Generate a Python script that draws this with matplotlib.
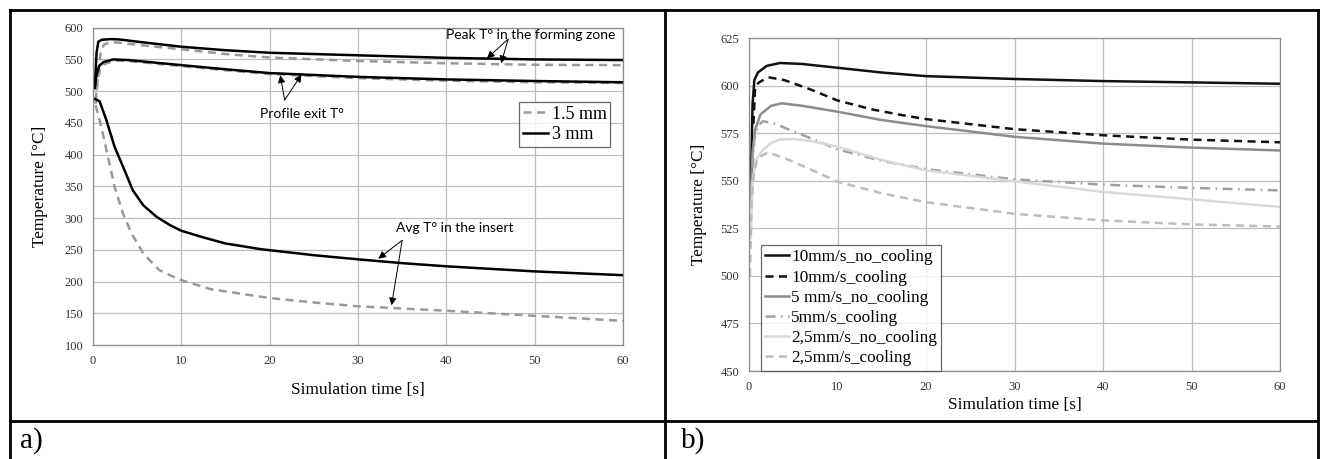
import matplotlib
matplotlib.use("Agg")
import matplotlib.pyplot as plt
from matplotlib.lines import Line2D

# ---------------- Panel a data ----------------
t_peak_3 = [0.2, 0.4, 0.6, 1.0, 2.0, 3.0, 5.0, 10, 15, 20, 30, 40, 50, 60]
peak_3 = [505, 560, 578, 581, 582, 581.5, 578, 570, 564.5, 560.5, 556.5, 552.5, 550, 549]
t_peak_15 = [0.3, 0.6, 0.9, 1.3, 2.0, 3.0, 5.0, 10, 15, 20, 30, 40, 50, 60]
peak_15 = [485, 530, 565, 574, 577, 576.5, 573, 566, 558.5, 553, 547.5, 544, 541.5, 541]
t_exit_3 = [0.2, 0.4, 0.7, 1.2, 2.3, 4, 7, 10, 15, 20, 30, 40, 50, 60]
exit_3 = [505, 525, 540, 546, 550, 549, 545, 541, 534.5, 528.5, 522.5, 518.5, 516, 514]
t_exit_15 = [0.3, 0.5, 0.8, 1.3, 2.5, 4, 7, 10, 15, 20, 30, 40, 50, 60]
exit_15 = [480, 515, 535, 543, 548, 547.5, 543.5, 539.5, 533, 527, 520.5, 516.5, 514, 513]
t_avg_3 = [0, 0.75, 1.5, 2.45, 3.4, 4.5, 5.7, 7.2, 8.7, 10, 12.5, 15, 19, 25, 30, 35, 40, 45, 50, 55, 60]
avg_3 = [489, 484, 455, 412, 381, 344, 320, 302, 289, 280, 269.5, 260, 251, 241.5, 235, 229, 224, 220, 216, 213, 210]
t_avg_15 = [0.3, 0.95, 1.7, 2.45, 3.4, 4.35, 5.7, 7.5, 9.8, 13.3, 20, 25, 30, 35, 40, 45, 50, 55, 60]
avg_15 = [478, 443, 396, 349, 307, 276, 244, 218, 203, 188, 174, 167, 161, 157.5, 154, 150, 146, 142, 138]
legend_a = ["1.5 mm", "3 mm"]

# ---------------- Panel b data ----------------
t_10n = [0.2, 0.4, 0.6, 1.0, 2, 3.5, 6, 10, 15, 20, 30, 40, 50, 60]
v_10n = [545, 590, 603, 607, 610.5, 612, 611.5, 609.5, 607, 605.1, 603.6, 602.5, 601.8, 601.1]
t_10c = [0.5, 0.7, 1.2, 2.2, 4, 7, 10, 14, 17.4, 20, 30, 40, 50, 60]
v_10c = [580, 600, 602, 604.5, 603, 598, 592.3, 587.5, 584.5, 582.5, 577.2, 574, 571.7, 570.3]
t_5n = [0.2, 0.4, 0.7, 1.3, 2.5, 3.7, 6, 10, 15, 20, 30, 40, 50, 60]
v_5n = [540, 565, 577, 585, 589.5, 590.8, 589.5, 586.4, 582, 578.8, 573.2, 569.6, 567.5, 566]
t_5c = [0.3, 0.6, 1.0, 1.6, 3, 5, 7.5, 10, 15, 20, 30, 40, 50, 60]
v_5c = [545, 572, 579, 581.4, 580, 576, 571.5, 566.6, 560.5, 556.2, 550.8, 548, 546.3, 545]
t_25n = [0.2, 0.4, 0.8, 1.5, 2.5, 3.5, 5, 7, 10, 15, 20, 30, 40, 50, 60]
v_25n = [520, 550, 561, 566, 570, 571.8, 572, 571, 568, 561, 555.5, 549.8, 544.2, 540.3, 536.3]
t_25c = [0.1, 0.3, 0.6, 1.0, 2.1, 4, 7, 10, 15, 20, 30, 40, 50, 60]
v_25c = [500, 540, 556, 562, 565, 562, 556, 549.6, 543.5, 538.8, 532.7, 529.2, 527.1, 526]
labels_b = ["10mm/s_no_cooling", "10mm/s_cooling", "5 mm/s_no_cooling",
            "5mm/s_cooling", "2,5mm/s_no_cooling", "2,5mm/s_cooling"]

SERIF = "Liberation Serif"
SANS = "Lato"
W, H = 1320, 459

fig = plt.figure(figsize=(W / 100, H / 100), dpi=100)
fig.patch.set_facecolor("white")


def fx(px):
    return px / W


def fy(py):
    return 1 - py / H


def style_axes(ax, ylim, yticks):
    ax.set_xlim(0, 60)
    ax.set_ylim(*ylim)
    ax.set_xticks(range(0, 61, 10))
    ax.set_yticks(yticks)
    ax.grid(True, color="#bdbdbd", lw=0.9)
    ax.set_axisbelow(True)
    for s in ax.spines.values():
        s.set_color("#8a8a8a")
        s.set_linewidth(0.9)
    ax.tick_params(length=0, labelsize=9, pad=7)
    for lab in ax.get_xticklabels() + ax.get_yticklabels():
        lab.set_fontfamily(SERIF)
        lab.set_color("#333333")


# ---------------- Panel a ----------------
axa = fig.add_axes([fx(93), fy(345), fx(623 - 93), (345 - 27.7) / H])
style_axes(axa, (100, 600), range(100, 601, 50))
gray_a = "#999999"
dash = (3.2, 2.2)
axa.plot(t_peak_15, peak_15, color=gray_a, lw=1.8, dashes=dash)
axa.plot(t_exit_15, exit_15, color=gray_a, lw=1.8, dashes=dash)
axa.plot(t_avg_15, avg_15, color=gray_a, lw=1.8, dashes=dash)
axa.plot(t_peak_3, peak_3, color="black", lw=1.8)
axa.plot(t_exit_3, exit_3, color="black", lw=1.8)
axa.plot(t_avg_3, avg_3, color="black", lw=1.8)

hA = [Line2D([], [], color=gray_a, lw=1.8, dashes=dash),
      Line2D([], [], color="black", lw=1.8)]
lga = axa.legend(hA, legend_a, loc="upper left",
                 bbox_to_anchor=(fx(519), fy(102)), bbox_transform=fig.transFigure,
                 prop={"family": SERIF, "size": 13}, frameon=True, fancybox=False,
                 edgecolor="#444444", handlelength=1.4, handletextpad=0.2,
                 borderpad=0.2, labelspacing=0.2, borderaxespad=0)
lga.get_frame().set_linewidth(0.9)

axa.set_xlabel("Simulation time [s]", fontfamily=SERIF, fontsize=12.4, labelpad=11)
axa.set_ylabel("Temperature [°C]", fontfamily=SERIF, fontsize=12.4, labelpad=12)

ap = dict(arrowstyle="-|>", color="black", lw=0.7, mutation_scale=11,
          shrinkA=0, shrinkB=0)
axa.text(40, 589, "Peak T° in the forming zone", fontfamily=SANS, fontsize=10,
         ha="left", va="center")
axa.annotate("", xy=(44.6, 551.7), xytext=(47, 582), arrowprops=ap)
axa.annotate("", xy=(46.2, 544), xytext=(47, 582), arrowprops=ap)
axa.text(23.6, 464, "Profile exit T°", fontfamily=SANS, fontsize=10,
         ha="center", va="center")
axa.annotate("", xy=(21.2, 525), xytext=(21.7, 486), arrowprops=ap)
axa.annotate("", xy=(23.6, 526), xytext=(21.7, 486), arrowprops=ap)
axa.text(41, 285, "Avg T° in the insert", fontfamily=SANS, fontsize=10,
         ha="center", va="center")
axa.annotate("", xy=(32.3, 236), xytext=(35, 265), arrowprops=ap)
axa.annotate("", xy=(33.8, 162.6), xytext=(35, 265), arrowprops=ap)

# ---------------- Panel b ----------------
axb = fig.add_axes([fx(749), fy(371), fx(1280 - 749), (371 - 38.3) / H])
style_axes(axb, (450, 625), range(450, 626, 25))
c_black = "#111111"
c_gray = "#8c8c8c"
c_gray2 = "#a0a0a0"
c_light = "#d9d9d9"
c_light2 = "#bdbdbd"
styles = [
    dict(color=c_black, lw=1.8),
    dict(color=c_black, lw=1.8, dashes=(3.2, 2.2)),
    dict(color=c_gray, lw=1.8),
    dict(color=c_gray2, lw=1.8, dashes=(4, 2.2, 0.6, 2.2)),
    dict(color=c_light, lw=1.8),
    dict(color=c_light2, lw=1.8, dashes=(3.2, 2.2)),
]
series_b = [(t_10n, v_10n), (t_10c, v_10c), (t_5n, v_5n),
            (t_5c, v_5c), (t_25n, v_25n), (t_25c, v_25c)]
hB = []
for (tt, vv), st, lb in zip(series_b, styles, labels_b):
    ln, = axb.plot(tt, vv, label=lb, **st)
    hB.append(ln)

lgb = axb.legend(hB, labels_b, loc="upper left",
                 bbox_to_anchor=(fx(761), fy(245)), bbox_transform=fig.transFigure,
                 prop={"family": SERIF, "size": 12.4}, frameon=True, fancybox=False,
                 edgecolor="#444444", handlelength=1.35, handletextpad=0.15,
                 borderpad=0.25, labelspacing=0.24, borderaxespad=0)
lgb.get_frame().set_linewidth(0.9)

axb.set_xlabel("Simulation time [s]", fontfamily=SERIF, fontsize=12.4, labelpad=3)
axb.set_ylabel("Temperature [°C]", fontfamily=SERIF, fontsize=12.4, labelpad=10)

# ---------------- Frame (table) ----------------
lkw = dict(color="black", lw=2.0, transform=fig.transFigure)
fig.add_artist(Line2D([fx(10), fx(1318)], [fy(10), fy(10)], **lkw))
fig.add_artist(Line2D([fx(10), fx(10)], [fy(10), 0], **lkw))
fig.add_artist(Line2D([fx(1318), fx(1318)], [fy(10), 0], **lkw))
fig.add_artist(Line2D([fx(665), fx(665)], [fy(10), 0], **lkw))
fig.add_artist(Line2D([fx(10), fx(1318)], [fy(421), fy(421)], **lkw))

fig.text(fx(20), fy(441), "a)", fontfamily=SERIF, fontsize=21, ha="left", va="center")
fig.text(fx(681), fy(441), "b)", fontfamily=SERIF, fontsize=21, ha="left", va="center")

fig.savefig("out.png", dpi=100)
